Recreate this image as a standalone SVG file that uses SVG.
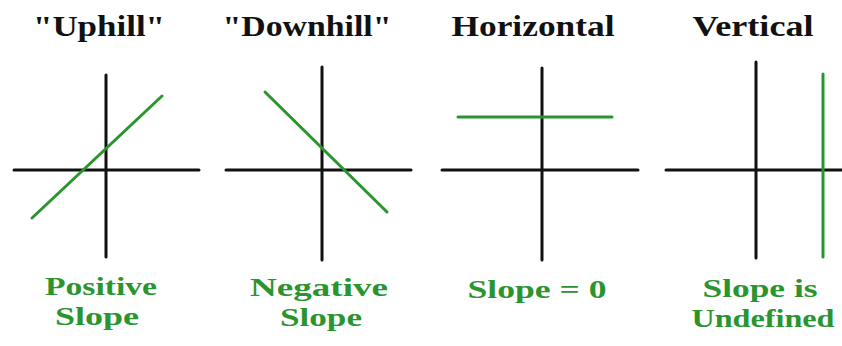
<svg xmlns="http://www.w3.org/2000/svg" width="842" height="346" viewBox="0 0 842 346">
<style>
.t{font-family:"Liberation Serif","Times New Roman",serif;font-weight:bold;fill:#111;font-size:29px;text-anchor:middle}
.g{font-family:"Liberation Serif","Times New Roman",serif;font-weight:bold;fill:#2a952f;font-size:26px;text-anchor:middle}
.ax{stroke:#111;stroke-width:3;stroke-linecap:round}
.ln{stroke:#2a952f;stroke-width:3;stroke-linecap:round}
</style>
<rect width="842" height="346" fill="#fff"/>
<g id="uphill">
<text class="t" x="99" y="36" textLength="132" lengthAdjust="spacingAndGlyphs">"Uphill"</text>
<line class="ax" x1="106" y1="75" x2="106" y2="257"/>
<line class="ax" x1="14" y1="170" x2="199" y2="170"/>
<line class="ln" x1="32" y1="218" x2="162" y2="96"/>
<text class="g" x="101" y="295" textLength="112" lengthAdjust="spacingAndGlyphs">Positive</text>
<text class="g" x="97" y="325" textLength="84" lengthAdjust="spacingAndGlyphs">Slope</text>
</g>
<g id="downhill">
<text class="t" x="307" y="36" textLength="169" lengthAdjust="spacingAndGlyphs">"Downhill"</text>
<line class="ax" x1="322" y1="67" x2="322" y2="260"/>
<line class="ax" x1="226" y1="170" x2="411" y2="170"/>
<line class="ln" x1="265" y1="92" x2="387" y2="212"/>
<text class="g" x="319" y="296" textLength="138" lengthAdjust="spacingAndGlyphs">Negative</text>
<text class="g" x="321" y="326" textLength="82" lengthAdjust="spacingAndGlyphs">Slope</text>
</g>
<g id="horizontal">
<text class="t" x="533" y="36" textLength="163" lengthAdjust="spacingAndGlyphs">Horizontal</text>
<line class="ax" x1="542" y1="68" x2="542" y2="260"/>
<line class="ax" x1="442" y1="170" x2="638" y2="170"/>
<line class="ln" x1="458" y1="117" x2="612" y2="117"/>
<text class="g" x="537" y="298" textLength="139" lengthAdjust="spacingAndGlyphs">Slope = 0</text>
</g>
<g id="vertical">
<text class="t" x="753" y="36" textLength="121" lengthAdjust="spacingAndGlyphs">Vertical</text>
<line class="ax" x1="756" y1="62" x2="756" y2="258"/>
<line class="ax" x1="666" y1="170" x2="842" y2="170"/>
<line class="ln" x1="823" y1="74" x2="823" y2="257"/>
<text class="g" x="760" y="297" textLength="115" lengthAdjust="spacingAndGlyphs">Slope is</text>
<text class="g" x="763" y="327" textLength="143" lengthAdjust="spacingAndGlyphs">Undefined</text>
</g>
</svg>
